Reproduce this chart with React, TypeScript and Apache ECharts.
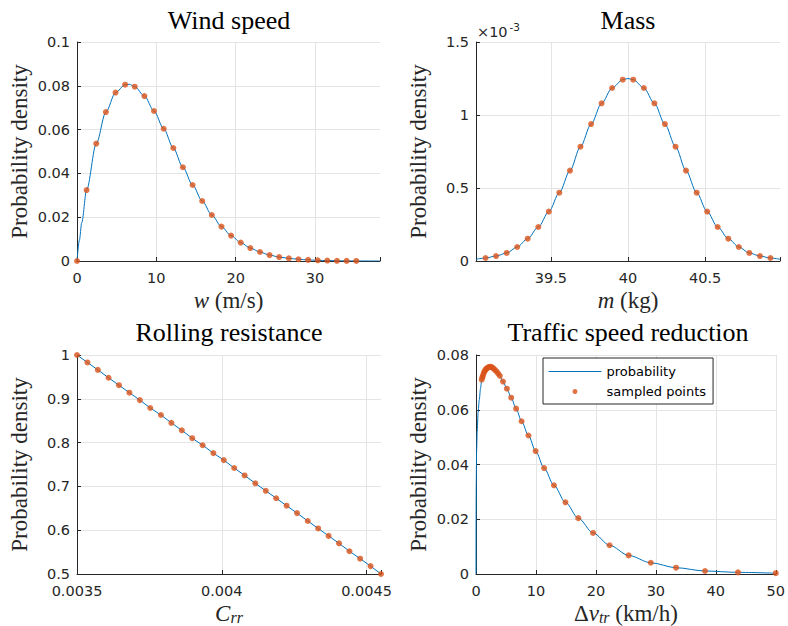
import React, { useEffect, useRef } from "react";
import * as echarts from "echarts";

// ---------- Wind speed ----------
const windX = [0, 1.21, 2.43, 3.64, 4.86, 6.07, 7.28, 8.5, 9.71, 10.93, 12.14, 13.35, 14.57, 15.78, 17.0, 18.21, 19.42, 20.64, 21.85, 23.07, 24.28, 25.49, 26.71, 27.92, 29.14, 30.35, 31.56, 32.78, 33.99, 35.21];
const windY = [0, 0.0324, 0.0536, 0.068, 0.0769, 0.0805, 0.0796, 0.0753, 0.0685, 0.0604, 0.0516, 0.0428, 0.0347, 0.0274, 0.021, 0.0157, 0.0116, 0.0084, 0.0059, 0.0041, 0.0027, 0.0018, 0.0012, 0.0008, 0.0005, 0.0003, 0.0002, 0.0001, 0.00005, 0.00003];
const windCurveX = [0, 0.3, 0.6, 1.21, 2.43, 3.64, 4.86, 6.07, 6.6, 7.28, 8.5, 9.71, 10.93, 12.14, 13.35, 14.57, 15.78, 17.0, 18.21, 19.42, 20.64, 21.85, 23.07, 24.28, 25.49, 26.71, 27.92, 29.14, 30.35, 31.56, 32.78, 33.99, 35.21, 36.5, 38.2];
const windCurveY = [0, 0.0095, 0.0175, 0.0324, 0.0536, 0.068, 0.0769, 0.0805, 0.0807, 0.0796, 0.0753, 0.0685, 0.0604, 0.0516, 0.0428, 0.0347, 0.0274, 0.021, 0.0157, 0.0116, 0.0084, 0.0059, 0.0041, 0.0027, 0.0018, 0.0012, 0.0008, 0.0005, 0.0003, 0.0002, 0.0001, 0.00005, 0.00003, 0.00001, 0];
const windXTicks = [0, 10, 20, 30];

// ---------- Mass ----------
const massX = [39.077, 39.145, 39.214, 39.282, 39.35, 39.419, 39.487, 39.555, 39.624, 39.692, 39.761, 39.829, 39.897, 39.966, 40.034, 40.103, 40.171, 40.239, 40.308, 40.376, 40.445, 40.513, 40.581, 40.65, 40.718, 40.786, 40.855, 40.923];
const massY = [0.0000205, 0.000034, 0.000055, 0.000096, 0.000153, 0.000233, 0.000338, 0.000468, 0.000619, 0.000783, 0.000938, 0.00108, 0.001185, 0.001242, 0.001242, 0.001185, 0.00108, 0.000938, 0.000783, 0.000619, 0.000468, 0.000338, 0.000233, 0.000153, 0.000096, 0.000055, 0.000034, 0.0000205];
const massCurveX = [39.015, 39.077, 39.145, 39.214, 39.282, 39.35, 39.419, 39.487, 39.555, 39.624, 39.692, 39.761, 39.829, 39.897, 39.966, 40.0, 40.034, 40.103, 40.171, 40.239, 40.308, 40.376, 40.445, 40.513, 40.581, 40.65, 40.718, 40.786, 40.855, 40.923, 40.985];
const massCurveY = [0.000012, 0.0000205, 0.000034, 0.000055, 0.000096, 0.000153, 0.000233, 0.000338, 0.000468, 0.000619, 0.000783, 0.000938, 0.00108, 0.001185, 0.001242, 0.00125, 0.001242, 0.001185, 0.00108, 0.000938, 0.000783, 0.000619, 0.000468, 0.000338, 0.000233, 0.000153, 0.000096, 0.000055, 0.000034, 0.0000205, 0.000012];

// ---------- Rolling resistance ----------
const rollX = [0.0035, 0.003536, 0.003572, 0.003609, 0.003645, 0.003681, 0.003717, 0.003753, 0.00379, 0.003826, 0.003862, 0.003898, 0.003934, 0.003971, 0.004007, 0.004043, 0.004079, 0.004116, 0.004152, 0.004188, 0.004224, 0.00426, 0.004297, 0.004333, 0.004369, 0.004405, 0.004441, 0.004478, 0.004514, 0.00455];
const rollY = [1, 0.983, 0.966, 0.948, 0.931, 0.914, 0.897, 0.879, 0.863, 0.845, 0.828, 0.81, 0.794, 0.776, 0.76, 0.742, 0.725, 0.707, 0.69, 0.673, 0.656, 0.639, 0.621, 0.604, 0.587, 0.57, 0.552, 0.535, 0.518, 0.5];

// ---------- Traffic speed reduction ----------
const trafficX = [0.95, 1.05, 1.15, 1.27, 1.4, 1.55, 1.7, 1.87, 2.05, 2.25, 2.45, 2.67, 2.9, 3.15, 3.42, 3.7, 3.98, 4.5, 5.15, 5.87, 6.69, 7.6, 8.75, 9.95, 11.36, 13.0, 14.92, 17.06, 19.53, 22.28, 25.46, 29.15, 33.37, 38.2, 43.7, 50];
const trafficY = [0.071, 0.0718, 0.0724, 0.0733, 0.0739, 0.0745, 0.0749, 0.0752, 0.0755, 0.0757, 0.0757, 0.0755, 0.0751, 0.0746, 0.074, 0.0732, 0.0724, 0.0703, 0.0677, 0.0644, 0.0604, 0.0558, 0.0506, 0.0449, 0.0387, 0.0324, 0.0262, 0.0204, 0.015, 0.0105, 0.0068, 0.0041, 0.0023, 0.0011, 0.0006, 0.0003];
const trafficCurveX = [0, 0.01, 0.04, 0.1, 0.2, 0.35, 0.55, 0.75, 0.95, 1.15, 1.4, 1.7, 2.05, 2.45, 2.9, 3.42, 3.98, 4.5, 5.15, 5.87, 6.69, 7.6, 8.75, 9.95, 11.36, 13.0, 14.92, 17.06, 19.53, 22.28, 25.46, 29.15, 33.37, 38.2, 43.7, 50];
const trafficCurveY = [0, 0.02, 0.033, 0.045, 0.052, 0.059, 0.0637, 0.0677, 0.071, 0.0724, 0.0739, 0.0749, 0.0755, 0.0757, 0.0751, 0.074, 0.0724, 0.0703, 0.0677, 0.0644, 0.0604, 0.0558, 0.0506, 0.0449, 0.0387, 0.0324, 0.0262, 0.0204, 0.015, 0.0105, 0.0068, 0.0041, 0.0023, 0.0011, 0.0006, 0.0003];

const titles = ["Wind speed", "Mass", "Rolling resistance", "Traffic speed reduction"];
const legendNames = ["probability", "sampled points"];

const SANS = "'DejaVu Sans', sans-serif";
const SERIF = "'Liberation Serif', 'Times New Roman', serif";
const INK = "#262626";
const BLUE = "#0072BD";
const ORANGE = "#D95319";
const GRIDC = "#e4e4e4";

const pairs = (xs: number[], ys: number[]) => xs.map((x, i) => [x, ys[i]]);

const nameStyle = {
  fontFamily: SERIF,
  fontSize: 23,
  color: INK,
  rich: {
    i: { fontFamily: SERIF, fontSize: 23, fontStyle: "italic", color: INK },
    n: { fontFamily: SERIF, fontSize: 23, color: INK },
    s: { fontFamily: SERIF, fontSize: 16, fontStyle: "italic", color: INK, lineHeight: 10, verticalAlign: "bottom" },
  },
};

function axisBase(showMaxLine: boolean) {
  return {
    type: "value" as const,
    axisLine: { show: true, onZero: false, lineStyle: { color: INK, width: 1 } },
    axisTick: { show: true, inside: true, length: 4, lineStyle: { color: INK, width: 1 } },
    splitLine: { show: true, showMinLine: false, showMaxLine, lineStyle: { color: GRIDC, width: 1 } },
  };
}

const xLabel = (fmt: (v: number) => string) => ({
  color: INK,
  fontFamily: SANS,
  fontSize: 14.5,
  margin: 9,
  formatter: fmt,
});
const yLabel = (fmt?: (v: number) => string) => ({
  color: INK,
  fontFamily: SANS,
  fontSize: 14.5,
  margin: 7,
  ...(fmt ? { formatter: fmt } : {}),
});

const onGrid = (v: number, step: number) => Math.abs(v / step - Math.round(v / step)) < 1e-6;

const X_NAME_GAP = 28;
const Y_NAME_GAP = 46;

const yName = {
  name: "Probability density",
  nameLocation: "middle" as const,
  nameRotate: 90,
  nameGap: Y_NAME_GAP,
  nameTextStyle: nameStyle,
};

const grids = [
  { left: 77, top: 42, width: 303, height: 219 },
  { left: 476, top: 42, width: 304, height: 219 },
  { left: 77, top: 355, width: 304, height: 219 },
  { left: 476, top: 355, width: 304, height: 219 },
];

const option: any = {
  animation: false,
  backgroundColor: "#fff",
  grid: grids,
  xAxis: [
    {
      ...axisBase(false),
      gridIndex: 0,
      min: 0,
      max: 38.2,
      interval: 10,
      axisLabel: xLabel((v) => (windXTicks.includes(v) ? String(v) : "")),
      name: "{i|w} (m/s)",
      nameLocation: "middle",
      nameGap: X_NAME_GAP,
      nameTextStyle: nameStyle,
    },
    {
      ...axisBase(false),
      gridIndex: 1,
      min: 39.015,
      max: 40.985,
      splitNumber: 4,
      axisLabel: xLabel((v) => (onGrid(v, 0.5) ? String(Math.round(v * 10) / 10) : "")),
      name: "{i|m} (kg)",
      nameLocation: "middle",
      nameGap: X_NAME_GAP,
      nameTextStyle: nameStyle,
    },
    {
      ...axisBase(false),
      gridIndex: 2,
      min: 0.0035,
      max: 0.00455,
      interval: 0.0005,
      axisLabel: xLabel((v) => (onGrid(v, 0.0005) ? String(Math.round(v * 10000) / 10000) : "")),
      name: "{i|C}{s|rr}",
      nameLocation: "middle",
      nameGap: X_NAME_GAP,
      nameTextStyle: nameStyle,
    },
    {
      ...axisBase(true),
      gridIndex: 3,
      min: 0,
      max: 50,
      interval: 10,
      axisLabel: xLabel((v) => String(v)),
      name: "{n|Δ}{i|v}{s|tr} (km/h)",
      nameLocation: "middle",
      nameGap: X_NAME_GAP,
      nameTextStyle: nameStyle,
    },
  ],
  yAxis: [
    { ...axisBase(true), gridIndex: 0, min: 0, max: 0.1, interval: 0.02, axisLabel: yLabel(), ...yName },
    {
      ...axisBase(true),
      gridIndex: 1,
      min: 0,
      max: 0.0015,
      interval: 0.0005,
      axisLabel: yLabel((v) => String(Math.round(v * 10000) / 10)),
      ...yName,
    },
    { ...axisBase(true), gridIndex: 2, min: 0.5, max: 1, interval: 0.1, axisLabel: yLabel(), ...yName },
    { ...axisBase(true), gridIndex: 3, min: 0, max: 0.08, interval: 0.02, axisLabel: yLabel(), ...yName },
  ],
  legend: {
    data: [
      { name: legendNames[0], itemStyle: { opacity: 0 }, lineStyle: { color: BLUE, width: 1 } },
      { name: legendNames[1] },
    ],
    orient: "vertical",
    left: 543,
    top: 358,
    itemWidth: 53,
    itemHeight: 5,
    itemGap: 7,
    padding: [7, 7, 6, 5],
    borderColor: INK,
    borderWidth: 1,
    backgroundColor: "#fff",
    selectedMode: false,
    textStyle: { fontFamily: SANS, fontSize: 13, color: "#000" },
  },
  graphic: [
    { type: "text", x: 229, y: 20.5, style: { text: titles[0], fontFamily: SERIF, fontSize: 26, fill: "#000", align: "center", verticalAlign: "middle" } },
    { type: "text", x: 628, y: 20.5, style: { text: titles[1], fontFamily: SERIF, fontSize: 26, fill: "#000", align: "center", verticalAlign: "middle" } },
    { type: "text", x: 229, y: 332.5, style: { text: titles[2], fontFamily: SERIF, fontSize: 26, fill: "#000", align: "center", verticalAlign: "middle" } },
    { type: "text", x: 628, y: 332.5, style: { text: titles[3], fontFamily: SERIF, fontSize: 26, fill: "#000", align: "center", verticalAlign: "middle" } },
    { type: "text", x: 477, y: 32.3, style: { text: "×10", fontFamily: SANS, fontSize: 14.5, fill: INK, align: "left", verticalAlign: "middle" } },
    { type: "text", x: 509.5, y: 26.5, style: { text: "-3", fontFamily: SANS, fontSize: 10.5, fill: INK, align: "left", verticalAlign: "middle" } },
  ],
  series: [
    { name: "wind pdf", type: "line", xAxisIndex: 0, yAxisIndex: 0, data: pairs(windCurveX, windCurveY), smooth: 0.3, smoothMonotone: "x", symbol: "none", lineStyle: { color: BLUE, width: 1 }, z: 2 },
    { name: "wind samples", type: "scatter", xAxisIndex: 0, yAxisIndex: 0, data: pairs(windX, windY), symbolSize: 6, itemStyle: { color: ORANGE }, z: 3 },
    { name: "mass pdf", type: "line", xAxisIndex: 1, yAxisIndex: 1, data: pairs(massCurveX, massCurveY), smooth: 0.3, smoothMonotone: "x", symbol: "none", lineStyle: { color: BLUE, width: 1 }, z: 2 },
    { name: "mass samples", type: "scatter", xAxisIndex: 1, yAxisIndex: 1, data: pairs(massX, massY), symbolSize: 6, itemStyle: { color: ORANGE }, z: 3 },
    { name: "rolling pdf", type: "line", xAxisIndex: 2, yAxisIndex: 2, data: pairs(rollX, rollY), symbol: "none", lineStyle: { color: BLUE, width: 1 }, z: 2 },
    { name: "rolling samples", type: "scatter", xAxisIndex: 2, yAxisIndex: 2, data: pairs(rollX, rollY), symbolSize: 6, itemStyle: { color: ORANGE }, z: 3 },
    { name: legendNames[0], type: "line", xAxisIndex: 3, yAxisIndex: 3, data: pairs(trafficCurveX, trafficCurveY), smooth: 0.3, smoothMonotone: "x", symbol: "none", lineStyle: { color: BLUE, width: 1 }, itemStyle: { color: BLUE }, z: 2 },
    { name: legendNames[1], type: "scatter", xAxisIndex: 3, yAxisIndex: 3, data: pairs(trafficX, trafficY), symbolSize: 6, itemStyle: { color: ORANGE }, z: 3 },
  ],
};

export default function App() {
  const ref = useRef<HTMLDivElement>(null);
  useEffect(() => {
    if (!ref.current) return;
    const chart = echarts.init(ref.current, null, { renderer: "svg" });
    chart.setOption(option);
    return () => chart.dispose();
  }, []);
  return (
    <div
      ref={ref}
      style={{ position: "absolute", left: 0, top: 0, width: 788, height: 626, background: "#fff" }}
    />
  );
}
